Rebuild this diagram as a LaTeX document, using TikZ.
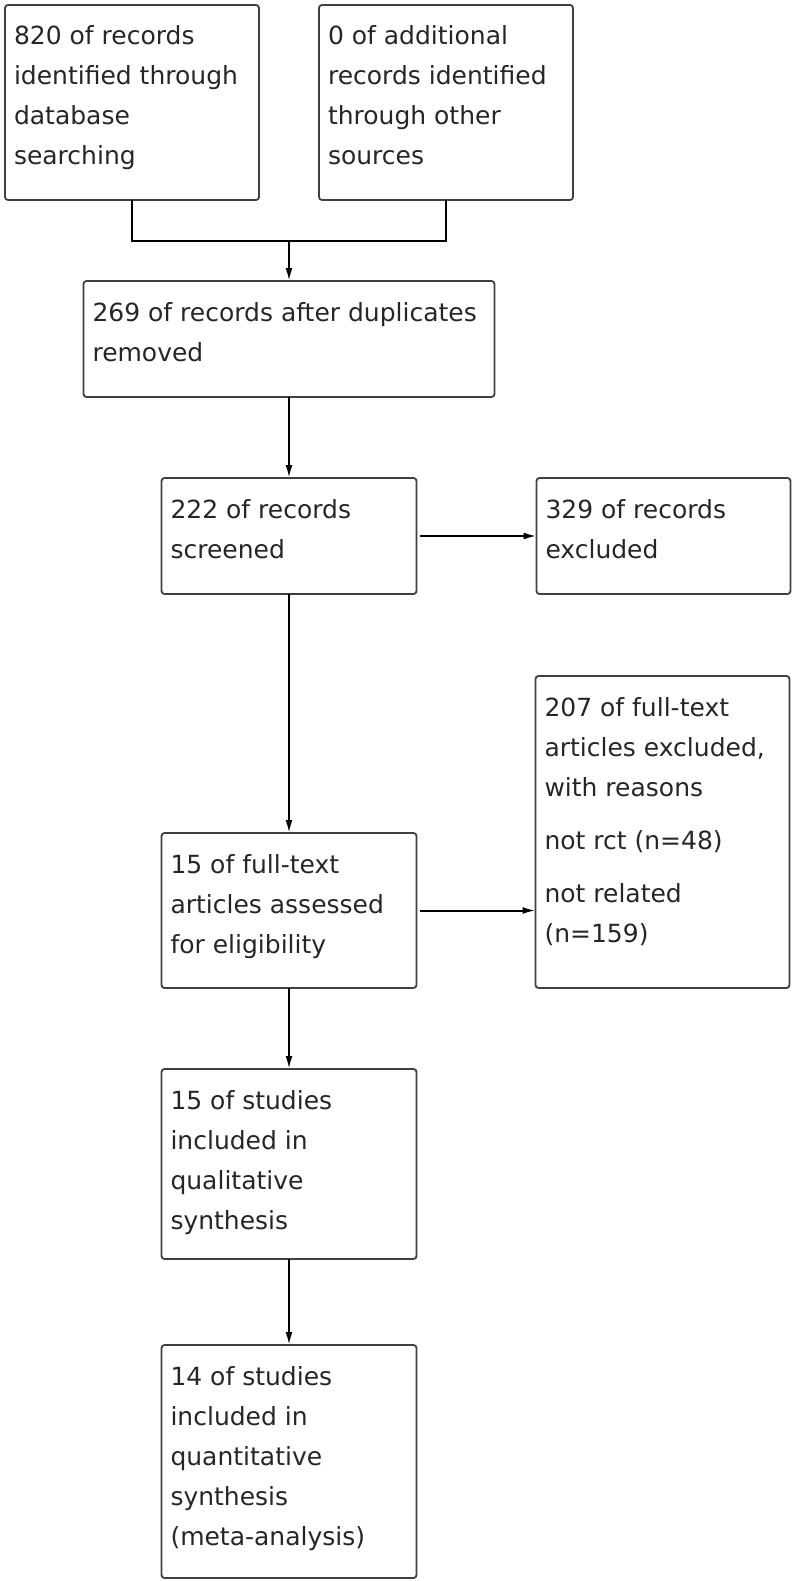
\documentclass[tikz,border=0pt]{standalone}
\usepackage{fontspec}
\setmainfont{DejaVu Sans}
\usetikzlibrary{positioning}
\usetikzlibrary{calc}
\usetikzlibrary{arrows.meta}
\newcommand{\stagetext}[3]{\begin{minipage}[t][#2][t]{#1}\raggedright\strut #3\end{minipage}}
\tikzstyle{stage} = [draw=black!75, line width=1.8pt, outer sep=0pt, rounded corners=3pt, inner xsep=9pt, inner ysep=12pt, text=black!85, font=\fontsize{25}{40}\selectfont]
\tikzstyle{flow} = [line width=2pt, -{Latex[length=13pt,width=7pt]}]
\tikzstyle{mergeline} = [line width=1.8pt]
\begin{document}
\begin{tikzpicture}[x=1pt, y=1pt]
        \useasboundingbox (0,0) rectangle (800,-1581);

        \node[stage, anchor=north west] (b1) at (5,-5) {\stagetext{236pt}{171pt}{820 of records\\identified through\\database\\searching}};
        \node[stage, right=60pt of b1.north east, anchor=north west] (b2) {\stagetext{236pt}{171pt}{0 of additional\\records identified\\through other\\sources}};

        \coordinate[below=41pt of b1.south] (jl);
        \coordinate[below=41pt of b2.south] (jr);
        \coordinate (merge) at ($(jl)!0.5!(jr)$);

        \node[stage, below=40pt of merge] (b3) {\stagetext{393pt}{92pt}{269 of records after duplicates\\removed}};
        \node[stage, below=81pt of b3] (b4) {\stagetext{237pt}{92pt}{222 of records\\screened}};
        \node[stage, right=120pt of b4] (b5) {\stagetext{236pt}{92pt}{329 of records\\excluded}};
        \node[stage, below=239pt of b4] (b6) {\stagetext{237pt}{131pt}{15 of full-text\\articles assessed\\for eligibility}};
        \node[stage, right=119pt of b6.south east, anchor=south west] (b7) {\stagetext{236pt}{288pt}{207 of full-text\\articles excluded,\\with reasons\\[13pt]not rct (n=48)\\[13pt]not related\\(n=159)}};
        \node[stage, below=81pt of b6] (b8) {\stagetext{237pt}{166pt}{15 of studies\\included in\\qualitative\\synthesis}};
        \node[stage, below=86pt of b8] (b9) {\stagetext{237pt}{209pt}{14 of studies\\included in\\quantitative\\synthesis\\(meta-analysis)}};

        \draw[mergeline] (b1.south) -- (jl) -- (jr) -- (b2.south);

        \path[flow]
        (merge) edge (b3)
        (b3) edge (b4)
        (b4) edge (b6)
        (b6) edge (b8)
        (b8) edge (b9)
        ;

        \path[flow, shorten <=3pt]
        (b4.east) edge (b5.west)
        (b6.east) edge (b6.east -| b7.west)
        ;
\end{tikzpicture}
\end{document}
